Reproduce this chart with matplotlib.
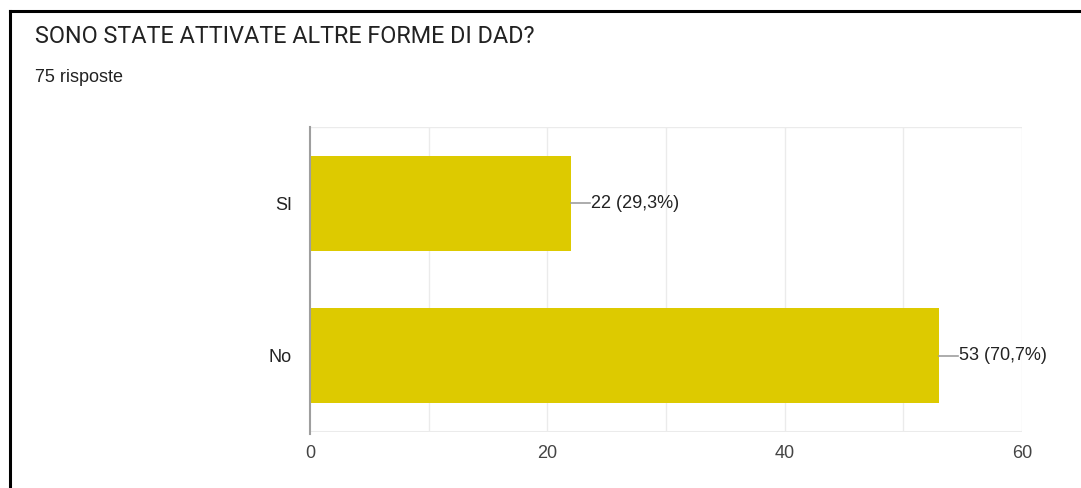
import matplotlib
matplotlib.use("Agg")
import matplotlib.pyplot as plt
from matplotlib.lines import Line2D

title = "SONO STATE ATTIVATE ALTRE FORME DI DAD?"
subtitle = "75 risposte"
categories = ["SI", "No"]
counts = [22, 53]
labels = ["22 (29,3%)", "53 (70,7%)"]
xticks = [0, 20, 40, 60]
grid_ticks = [10, 20, 30, 40, 50, 60]

W, H = 1081, 488
fig = plt.figure(figsize=(W / 100, H / 100), dpi=100)
fig.patch.set_facecolor("white")

ax = fig.add_axes([310 / W, 1 - 432 / H, (1022 - 310) / W, (432 - 127) / H])
ypos = list(range(len(categories)))
ax.barh(ypos, counts, height=0.62, color="#DDCA00", zorder=3)
ax.set_xlim(0, 60)
ax.set_ylim(len(categories) - 0.5, -0.5)

for g in grid_ticks:
    ax.axvline(g, color="#EBEBEB", lw=1, zorder=1)
ax.axhline(len(categories) - 0.5, color="#EBEBEB", lw=1.5, zorder=1)
ax.axhline(-0.5, color="#EBEBEB", lw=1, zorder=1)

for s in ["top", "right", "bottom"]:
    ax.spines[s].set_visible(False)
ax.spines["left"].set_color("#9E9E9E")
ax.spines["left"].set_linewidth(1.5)
ax.spines["left"].set_bounds(len(categories) - 0.5 + 0.015, -0.5)
ax.spines["left"].set_zorder(4)

ax.set_yticks(ypos)
ax.set_yticklabels(categories, fontsize=13, color="#222222", family="Liberation Sans")
ax.set_xticks(xticks)
ax.set_xticklabels([str(t) for t in xticks], fontsize=13, color="#444444", family="Liberation Sans")
ax.tick_params(axis="both", length=0)
ax.tick_params(axis="y", pad=13)
ax.tick_params(axis="x", pad=9)

for y, c, lab in zip(ypos, counts, labels):
    ax.plot([c, c + 1.6], [y, y], color="#9E9E9E", lw=1.2, zorder=3, clip_on=False)
    ax.text(c + 1.7, y, lab, va="center", ha="left", fontsize=13,
            color="#222222", family="Liberation Sans")

fig.text(35 / W, 1 - 36.5 / H, title, fontsize=16.8, color="#222222",
         family="Roboto", va="center", ha="left")
fig.text(35 / W, 1 - 78 / H, subtitle, fontsize=13, color="#222222",
         family="Liberation Sans", va="center", ha="left")

# frame lines (top and left)
fig.add_artist(Line2D([10 / W, 1], [1 - 11 / H, 1 - 11 / H], color="black", lw=2.2,
                      transform=fig.transFigure))
fig.add_artist(Line2D([10 / W, 10 / W], [0, 1 - 11 / H], color="black", lw=2.2,
                      transform=fig.transFigure))

fig.savefig("out.png", dpi=100, facecolor="white")
